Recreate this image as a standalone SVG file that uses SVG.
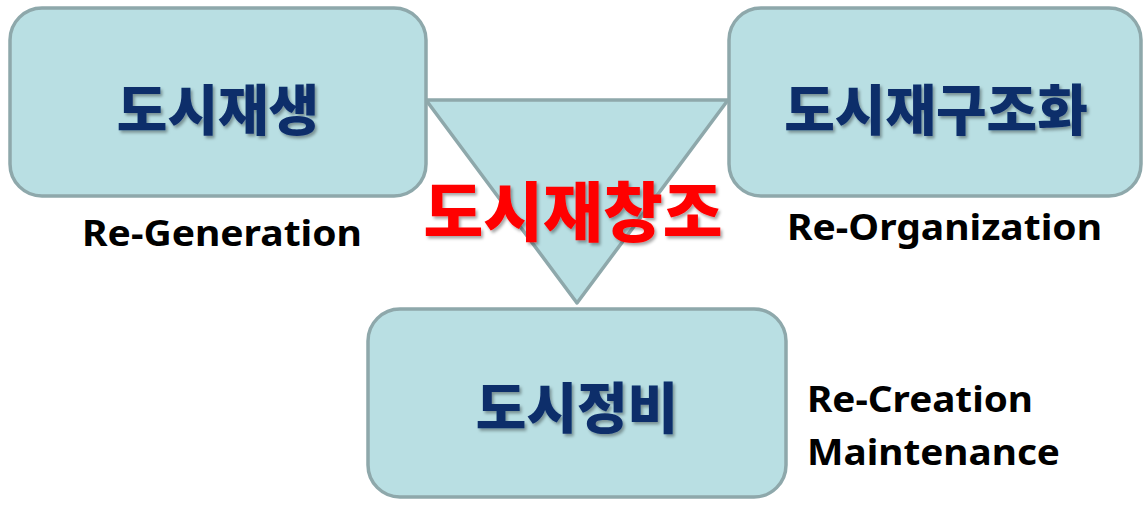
<svg xmlns="http://www.w3.org/2000/svg" width="1144" height="506" viewBox="0 0 1144 506">
<defs>
<style>
.box{fill:#b9dfe3;stroke:#8ea8ab;stroke-width:3.5}
.ko{font-family:"Noto Sans CJK KR","Noto Sans",sans-serif;font-weight:900;fill:#0b2d6b;text-anchor:middle}
.en{font-family:"Noto Sans","Open Sans",sans-serif;font-weight:bold;fill:#000}
</style>
<filter id="sh" x="-10%" y="-20%" width="120%" height="150%">
<feDropShadow dx="2" dy="2.5" stdDeviation="1.5" flood-color="#000" flood-opacity="0.35"/>
</filter>
</defs>
<g id="connectors">
<polygon points="426,100 728,100 577,303" fill="#b9dfe3" stroke="#8ea8ab" stroke-width="3.5" stroke-linejoin="round"/>
</g>
<g id="node-regen">
<rect class="box" x="10" y="8" width="416" height="188" rx="32"/>
<text class="ko" x="218" y="130" font-size="55" filter="url(#sh)">도시재생</text>
</g>
<g id="node-reorg">
<rect class="box" x="729" y="8" width="412" height="188" rx="32"/>
<text class="ko" x="936" y="130" font-size="55" filter="url(#sh)">도시재구조화</text>
</g>
<g id="node-maint">
<rect class="box" x="368" y="309" width="418" height="188" rx="32"/>
<text class="ko" x="577" y="428" font-size="55" filter="url(#sh)">도시정비</text>
</g>
<g id="center">
<text class="ko" x="573" y="236" font-size="65" style="fill:#ff0000" filter="url(#sh)">도시재창조</text>
</g>
<g id="labels">
<text class="en" x="82" y="246" font-size="36" textLength="280" lengthAdjust="spacingAndGlyphs">Re-Generation</text>
<text class="en" x="787" y="240" font-size="36" textLength="315" lengthAdjust="spacingAndGlyphs">Re-Organization</text>
<text class="en" x="807" y="412" font-size="36" textLength="226" lengthAdjust="spacingAndGlyphs">Re-Creation</text>
<text class="en" x="807" y="465" font-size="36" textLength="253" lengthAdjust="spacingAndGlyphs">Maintenance</text>
</g>
</svg>
